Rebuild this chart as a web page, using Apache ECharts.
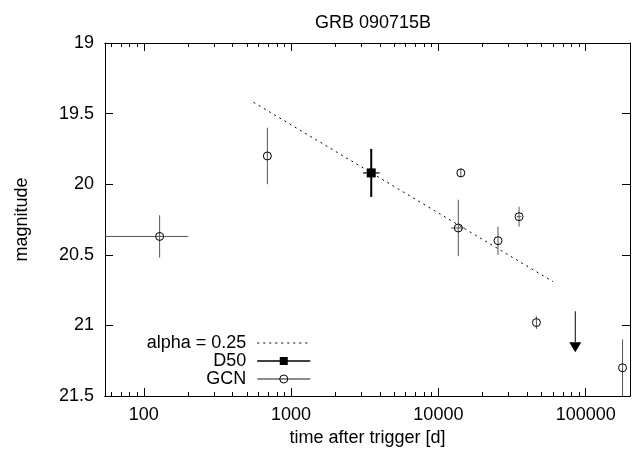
<!DOCTYPE html>
<html>
<head>
<meta charset="utf-8">
<script src="https://cdn.jsdelivr.net/npm/echarts@6/dist/echarts.min.js"></script>
<style>html,body{margin:0;padding:0;background:#fff}#c{width:638px;height:455px}</style>
</head>
<body>
<div id="c"></div>
<script>
// ---- data (time after trigger [d], magnitude) ----
const gcnT      = [128, 690, 14200, 13650, 25400, 35300, 46300, 178000];
const gcnMag    = [20.37, 19.80, 19.92, 20.31, 20.40, 20.23, 20.98, 21.30];
const gcnMagErr = [0.15, 0.20, 0.03, 0.20, 0.10, 0.07, 0.045, 0.20];
const gcnTLo    = [40, 690, 14200, 12200, 25400, 34000, 46300, 178000];
const gcnTHi    = [200, 690, 14200, 15100, 25400, 36600, 46300, 178000];

const d50T      = [3500];
const d50Mag    = [19.92];
const d50MagErr = [0.17];
const d50TLo    = [3080];
const d50THi    = [3990];

const limT      = [85000];
const limMag    = [20.90];
const limTip    = [21.19];

const fitT      = [556, 60000];
const fitMag    = [19.42, 20.69];

const xMajorTicks = [100, 1000, 10000, 100000];
const xMinorTicks = [60, 70, 80, 90, 200, 300, 400, 500, 600, 700, 800, 900,
  2000, 3000, 4000, 5000, 6000, 7000, 8000, 9000,
  20000, 30000, 40000, 50000, 60000, 70000, 80000, 90000];

const X_MIN = 54.5, X_MAX = 200000;
const Y_MIN = 19, Y_MAX = 21.5, Y_STEP = 0.5;

// ---- build ----
const FONT = 'Liberation Sans';
const FS = 18;
const gcnErrData = gcnT.map((t, i) => [t, gcnMag[i], gcnTLo[i], gcnTHi[i], gcnMag[i] - gcnMagErr[i], gcnMag[i] + gcnMagErr[i]]);
const d50ErrData = d50T.map((t, i) => [t, d50Mag[i], d50TLo[i], d50THi[i], d50Mag[i] - d50MagErr[i], d50Mag[i] + d50MagErr[i]]);
const limData = limT.map((t, i) => [t, limMag[i], limTip[i]]);

function errRender(color, vw, hw) {
  return function (params, api) {
    const x = api.value(0), y = api.value(1);
    const xlo = api.value(2), xhi = api.value(3), ylo = api.value(4), yhi = api.value(5);
    const a = api.coord([x, ylo]), b = api.coord([x, yhi]);
    const children = [{ type: 'line', shape: { x1: a[0], y1: a[1], x2: b[0], y2: b[1] }, style: { stroke: color, lineWidth: vw } }];
    if (xlo !== xhi) {
      const l = api.coord([xlo, y]), r = api.coord([xhi, y]);
      children.push({ type: 'line', shape: { x1: l[0], y1: l[1], x2: r[0], y2: r[1] }, style: { stroke: color, lineWidth: hw } });
    }
    return { type: 'group', children: children };
  };
}

function limRender(params, api) {
  const p0 = api.coord([api.value(0), api.value(1)]);
  const p1 = api.coord([api.value(0), api.value(2)]);
  const hw = 6, hh = 10;
  return {
    type: 'group',
    children: [
      { type: 'line', shape: { x1: p0[0], y1: p0[1], x2: p1[0], y2: p1[1] - hh }, style: { stroke: '#000', lineWidth: 1 } },
      { type: 'polygon', shape: { points: [[p1[0] - hw, p1[1] - hh], [p1[0] + hw, p1[1] - hh], [p1[0], p1[1]]] }, style: { fill: '#000' } }
    ]
  };
}

function xAxisDef(pos, ticks, len, labels) {
  return {
    type: 'log', position: pos, min: X_MIN, max: X_MAX, logBase: 10,
    axisLine: { show: true, onZero: false, lineStyle: { color: '#000', width: 1 } },
    axisTick: { show: true, inside: true, length: len, customValues: ticks, lineStyle: { color: '#000', width: 1 } },
    axisLabel: labels ? {
      show: true, customValues: ticks, margin: 10, color: '#000', fontSize: FS, fontFamily: FONT,
      formatter: function (v) { return String(Math.round(v)); }
    } : { show: false },
    splitLine: { show: false }, minorTick: { show: false },
    name: labels ? 'time after trigger [d]' : '',
    nameLocation: 'middle', nameGap: 26,
    nameTextStyle: { color: '#000', fontSize: FS, fontFamily: FONT }
  };
}

function yAxisDef(pos, labels) {
  return {
    type: 'value', position: pos, inverse: true, min: Y_MIN, max: Y_MAX, interval: Y_STEP,
    axisLine: { show: true, onZero: false, lineStyle: { color: '#000', width: 1 } },
    axisTick: { show: true, inside: true, length: 8, lineStyle: { color: '#000', width: 1 } },
    axisLabel: labels ? { show: true, margin: 11, color: '#000', fontSize: FS, fontFamily: FONT } : { show: false },
    splitLine: { show: false },
    name: labels ? 'magnitude' : '',
    nameLocation: 'middle', nameGap: 74,
    nameTextStyle: { color: '#000', fontSize: FS, fontFamily: FONT }
  };
}

const option = {
  animation: false,
  backgroundColor: '#fff',
  textStyle: { fontFamily: FONT },
  title: {
    text: 'GRB 090715B', left: 368, textAlign: 'center', top: 9,
    textStyle: { color: '#000', fontSize: FS, fontWeight: 'normal', fontFamily: FONT }
  },
  grid: { left: 105, right: 8, top: 43, bottom: 59, containLabel: false },
  xAxis: [
    xAxisDef('bottom', xMajorTicks, 8, true),
    xAxisDef('bottom', xMinorTicks, 4, false),
    xAxisDef('top', xMajorTicks, 8, false),
    xAxisDef('top', xMinorTicks, 4, false)
  ],
  yAxis: [yAxisDef('left', true), yAxisDef('right', false)],
  legend: {
    orient: 'vertical', align: 'right', right: 327, top: 334, padding: 0, itemGap: 0,
    itemWidth: 53, itemHeight: 10, selectedMode: false,
    textStyle: { color: '#000', fontSize: FS, fontFamily: FONT, lineHeight: 18, padding: [0, 6, 0, 0] },
    data: [
      { name: 'alpha = 0.25', itemStyle: { opacity: 0 }, lineStyle: { width: 1, color: '#000', type: [2, 4], opacity: 1 } },
      { name: 'D50', lineStyle: { width: 1.5, color: '#000', type: 'solid', opacity: 1 } },
      { name: 'GCN', itemStyle: { borderWidth: 1, borderColor: '#000', color: 'rgba(0,0,0,0)' }, lineStyle: { width: 1.5, color: '#666', type: 'solid', opacity: 1 } }
    ]
  },
  series: [
    {
      name: 'alpha = 0.25', type: 'line', xAxisIndex: 0, yAxisIndex: 0,
      data: fitT.map((t, i) => [t, fitMag[i]]),
      symbol: 'none', silent: true,
      lineStyle: { color: '#000', width: 1, type: [2, 4] }
    },
    {
      name: 'GCN errors', type: 'custom', xAxisIndex: 0, yAxisIndex: 0, clip: true, silent: true,
      encode: { x: 0, y: 1 }, data: gcnErrData, renderItem: errRender('#555', 1, 1)
    },
    {
      name: 'D50 errors', type: 'custom', xAxisIndex: 0, yAxisIndex: 0, clip: true, silent: true,
      encode: { x: 0, y: 1 }, data: d50ErrData, renderItem: errRender('#000', 2, 1.2)
    },
    {
      name: 'GCN limit', type: 'custom', xAxisIndex: 0, yAxisIndex: 0, clip: true, silent: true,
      encode: { x: 0, y: 1 }, data: limData, renderItem: limRender
    },
    {
      name: 'GCN', type: 'line', xAxisIndex: 0, yAxisIndex: 0, silent: true,
      data: gcnT.map((t, i) => [t, gcnMag[i]]),
      symbol: 'circle', symbolSize: 8, showAllSymbol: true,
      lineStyle: { opacity: 0, color: '#666' },
      itemStyle: { color: 'rgba(0,0,0,0)', borderColor: '#000', borderWidth: 1 }
    },
    {
      name: 'D50', type: 'line', xAxisIndex: 0, yAxisIndex: 0, silent: true,
      data: d50T.map((t, i) => [t, d50Mag[i]]),
      symbol: 'rect', symbolSize: 9,
      lineStyle: { opacity: 0, color: '#000' },
      itemStyle: { color: '#000' }
    }
  ]
};

const chart = echarts.init(document.getElementById('c'), null, { renderer: 'canvas' });
chart.setOption(option);
</script>
</body>
</html>
